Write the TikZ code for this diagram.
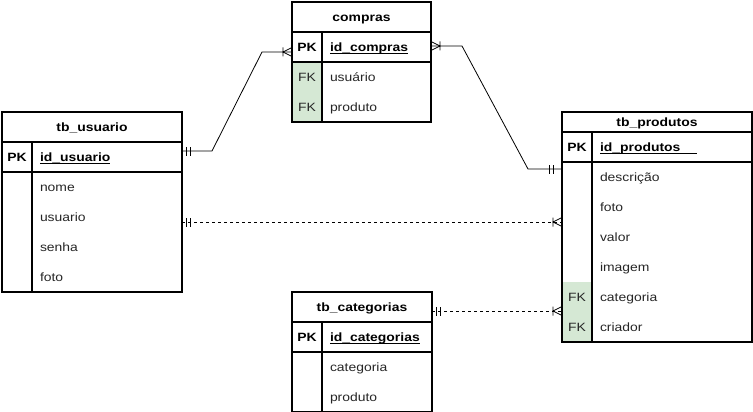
\documentclass[tikz,border=0pt]{standalone}
\usepackage{fontspec}
\setmainfont[FakeStretch=1.16]{Liberation Sans}
\usetikzlibrary{positioning, decorations.markings}

\definecolor{fkgreen}{HTML}{D5E8D4}

% underline that sits on the underscore
\newcommand{\keyname}[1]{\setbox0=\hbox{#1}\rlap{\rule[-2.2pt]{\wd0}{0.9pt}}\box0}

\tikzset{
	cellfont/.style={font=\fontsize{12}{14}\selectfont, outer sep=0pt, text height=9.6pt, text depth=1pt},
	tabtitle/.style={draw, line width=1.6pt, inner sep=0pt, minimum height=30pt, cellfont, font=\fontsize{12}{14}\selectfont\bfseries},
	keycell/.style={inner sep=0pt, minimum width=30pt, minimum height=30pt, cellfont, text=black!85},
	pkcell/.style={keycell, text=black, font=\fontsize{12}{14}\selectfont\bfseries},
	fkcell/.style={keycell, fill=fkgreen},
	fieldcell/.style={inner xsep=8pt, inner ysep=0pt, minimum height=30pt, text width=#1, align=left, cellfont, text=black!85},
	pkfield/.style={fieldcell=#1, text=black, font=\fontsize{12}{14}\selectfont\bfseries},
	tabline/.style={line width=1.6pt},
	rel/.style={line width=0.8pt},
	barbar at start/.style={postaction={decorate, decoration={markings,
		mark=at position 4pt with {\draw[solid] (0,-4.5pt) -- (0,4.5pt);},
		mark=at position 8pt with {\draw[solid] (0,-4.5pt) -- (0,4.5pt);}}}},
	barbar at end/.style={postaction={decorate, decoration={markings,
		mark=at position -9pt with {\draw[solid] (0,-4.5pt) -- (0,4.5pt);},
		mark=at position -13pt with {\draw[solid] (0,-4.5pt) -- (0,4.5pt);}}}},
	crow at start/.style={postaction={decorate, decoration={markings,
		mark=at position 9pt with {\draw[solid] (0,-4.5pt) -- (0,4.5pt) (-9pt,4.5pt) -- (0,0) -- (-9pt,-4.5pt);}}}},
	crow at end/.style={postaction={decorate, decoration={markings,
		mark=at position -9pt with {\draw[solid] (0,-4.5pt) -- (0,4.5pt) (9pt,4.5pt) -- (0,0) -- (9pt,-4.5pt);}}}}
}

\begin{document}
\begin{tikzpicture}[x=1pt, y=-1pt]
	\useasboundingbox (0,0) rectangle (753,412);

	% compras
	\node[tabtitle, minimum width=139pt] (compras) at (361.5,17) {compras};
	\node[pkcell, below=0pt of compras.south west, anchor=north west] (compras-pk) {PK};
	\node[pkfield=93pt, right=0pt of compras-pk] (compras-id) {\keyname{id\_compras}};
	\node[fkcell, below=0pt of compras-pk] (compras-fk1) {FK};
	\node[fieldcell=93pt, right=0pt of compras-fk1] (compras-usuario) {usuário};
	\node[fkcell, below=0pt of compras-fk1] (compras-fk2) {FK};
	\node[fieldcell=93pt, right=0pt of compras-fk2] (compras-produto) {produto};
	\draw[tabline] (compras-pk.north west) rectangle (compras-id.south east);
	\draw[tabline] (compras-pk.north east) -- (compras-fk2.south east);
	\draw[tabline] (compras.north west) rectangle (compras-produto.south east);

	% tb_usuario
	\node[tabtitle, minimum width=180pt] (usuario) at (92,127) {tb\_usuario};
	\node[pkcell, below=0pt of usuario.south west, anchor=north west] (usuario-pk) {PK};
	\node[pkfield=134pt, right=0pt of usuario-pk] (usuario-id) {\keyname{id\_usuario}};
	\node[keycell, below=0pt of usuario-pk] (usuario-k1) {};
	\node[fieldcell=134pt, right=0pt of usuario-k1] (usuario-nome) {nome};
	\node[keycell, below=0pt of usuario-k1] (usuario-k2) {};
	\node[fieldcell=134pt, right=0pt of usuario-k2] (usuario-usuario) {usuario};
	\node[keycell, below=0pt of usuario-k2] (usuario-k3) {};
	\node[fieldcell=134pt, right=0pt of usuario-k3] (usuario-senha) {senha};
	\node[keycell, below=0pt of usuario-k3] (usuario-k4) {};
	\node[fieldcell=134pt, right=0pt of usuario-k4] (usuario-foto) {foto};
	\draw[tabline] (usuario-pk.north west) rectangle (usuario-id.south east);
	\draw[tabline] (usuario-pk.north east) -- (usuario-k4.south east);
	\draw[tabline] (usuario.north west) rectangle (usuario-foto.south east);

	% tb_produtos
	\node[tabtitle, minimum width=190pt, minimum height=20pt] (produtos) at (657,122) {tb\_produtos};
	\node[pkcell, below=0pt of produtos.south west, anchor=north west] (produtos-pk) {PK};
	\node[pkfield=144pt, right=0pt of produtos-pk] (produtos-id) {\keyname{id\_produtos\hspace{17pt}}};
	\node[keycell, below=0pt of produtos-pk] (produtos-k1) {};
	\node[fieldcell=144pt, right=0pt of produtos-k1] (produtos-descricao) {descrição};
	\node[keycell, below=0pt of produtos-k1] (produtos-k2) {};
	\node[fieldcell=144pt, right=0pt of produtos-k2] (produtos-foto) {foto};
	\node[keycell, below=0pt of produtos-k2] (produtos-k3) {};
	\node[fieldcell=144pt, right=0pt of produtos-k3] (produtos-valor) {valor};
	\node[keycell, below=0pt of produtos-k3] (produtos-k4) {};
	\node[fieldcell=144pt, right=0pt of produtos-k4] (produtos-imagem) {imagem};
	\node[fkcell, below=0pt of produtos-k4] (produtos-fk1) {FK};
	\node[fieldcell=144pt, right=0pt of produtos-fk1] (produtos-categoria) {categoria};
	\node[fkcell, below=0pt of produtos-fk1] (produtos-fk2) {FK};
	\node[fieldcell=144pt, right=0pt of produtos-fk2] (produtos-criador) {criador};
	\draw[tabline] (produtos-pk.north west) rectangle (produtos-id.south east);
	\draw[tabline] (produtos-pk.north east) -- (produtos-fk2.south east);
	\draw[tabline] (produtos.north west) rectangle (produtos-criador.south east);

	% tb_categorias
	\node[tabtitle, minimum width=140pt] (categorias) at (362,307) {tb\_categorias};
	\node[pkcell, below=0pt of categorias.south west, anchor=north west] (categorias-pk) {PK};
	\node[pkfield=94pt, right=0pt of categorias-pk] (categorias-id) {\keyname{id\_categorias}};
	\node[keycell, below=0pt of categorias-pk] (categorias-k1) {};
	\node[fieldcell=94pt, right=0pt of categorias-k1] (categorias-categoria) {categoria};
	\node[keycell, below=0pt of categorias-k1] (categorias-k2) {};
	\node[fieldcell=94pt, right=0pt of categorias-k2] (categorias-produto) {produto};
	\draw[tabline] (categorias-pk.north west) rectangle (categorias-id.south east);
	\draw[tabline] (categorias-pk.north east) -- (categorias-k2.south east);
	\draw[tabline] (categorias.north west) rectangle (categorias-produto.south east);

	% relations
	\draw[rel, barbar at start, crow at end] ([yshift=6pt]usuario-id.east) -- ++(30,0)
		-- ([xshift=-30pt, yshift=-5pt]compras-pk.west) -- ([yshift=-5pt]compras-pk.west);
	\draw[rel, crow at start, barbar at end] ([yshift=1pt]compras-id.east) -- ++(31,0)
		-- ([xshift=-34pt, yshift=8pt]produtos-k1.west) -- ([yshift=8pt]produtos-k1.west);
	\draw[rel, dashed, barbar at start, crow at end] ([yshift=-5pt]usuario-usuario.east)
		-- ([yshift=-5pt]usuario-usuario.east -| produtos-k2.west);
	\draw[rel, dashed, barbar at start, crow at end] ([yshift=-4pt]categorias.east)
		-- ([yshift=-4pt]categorias.east -| produtos-fk1.west);
\end{tikzpicture}
\end{document}
